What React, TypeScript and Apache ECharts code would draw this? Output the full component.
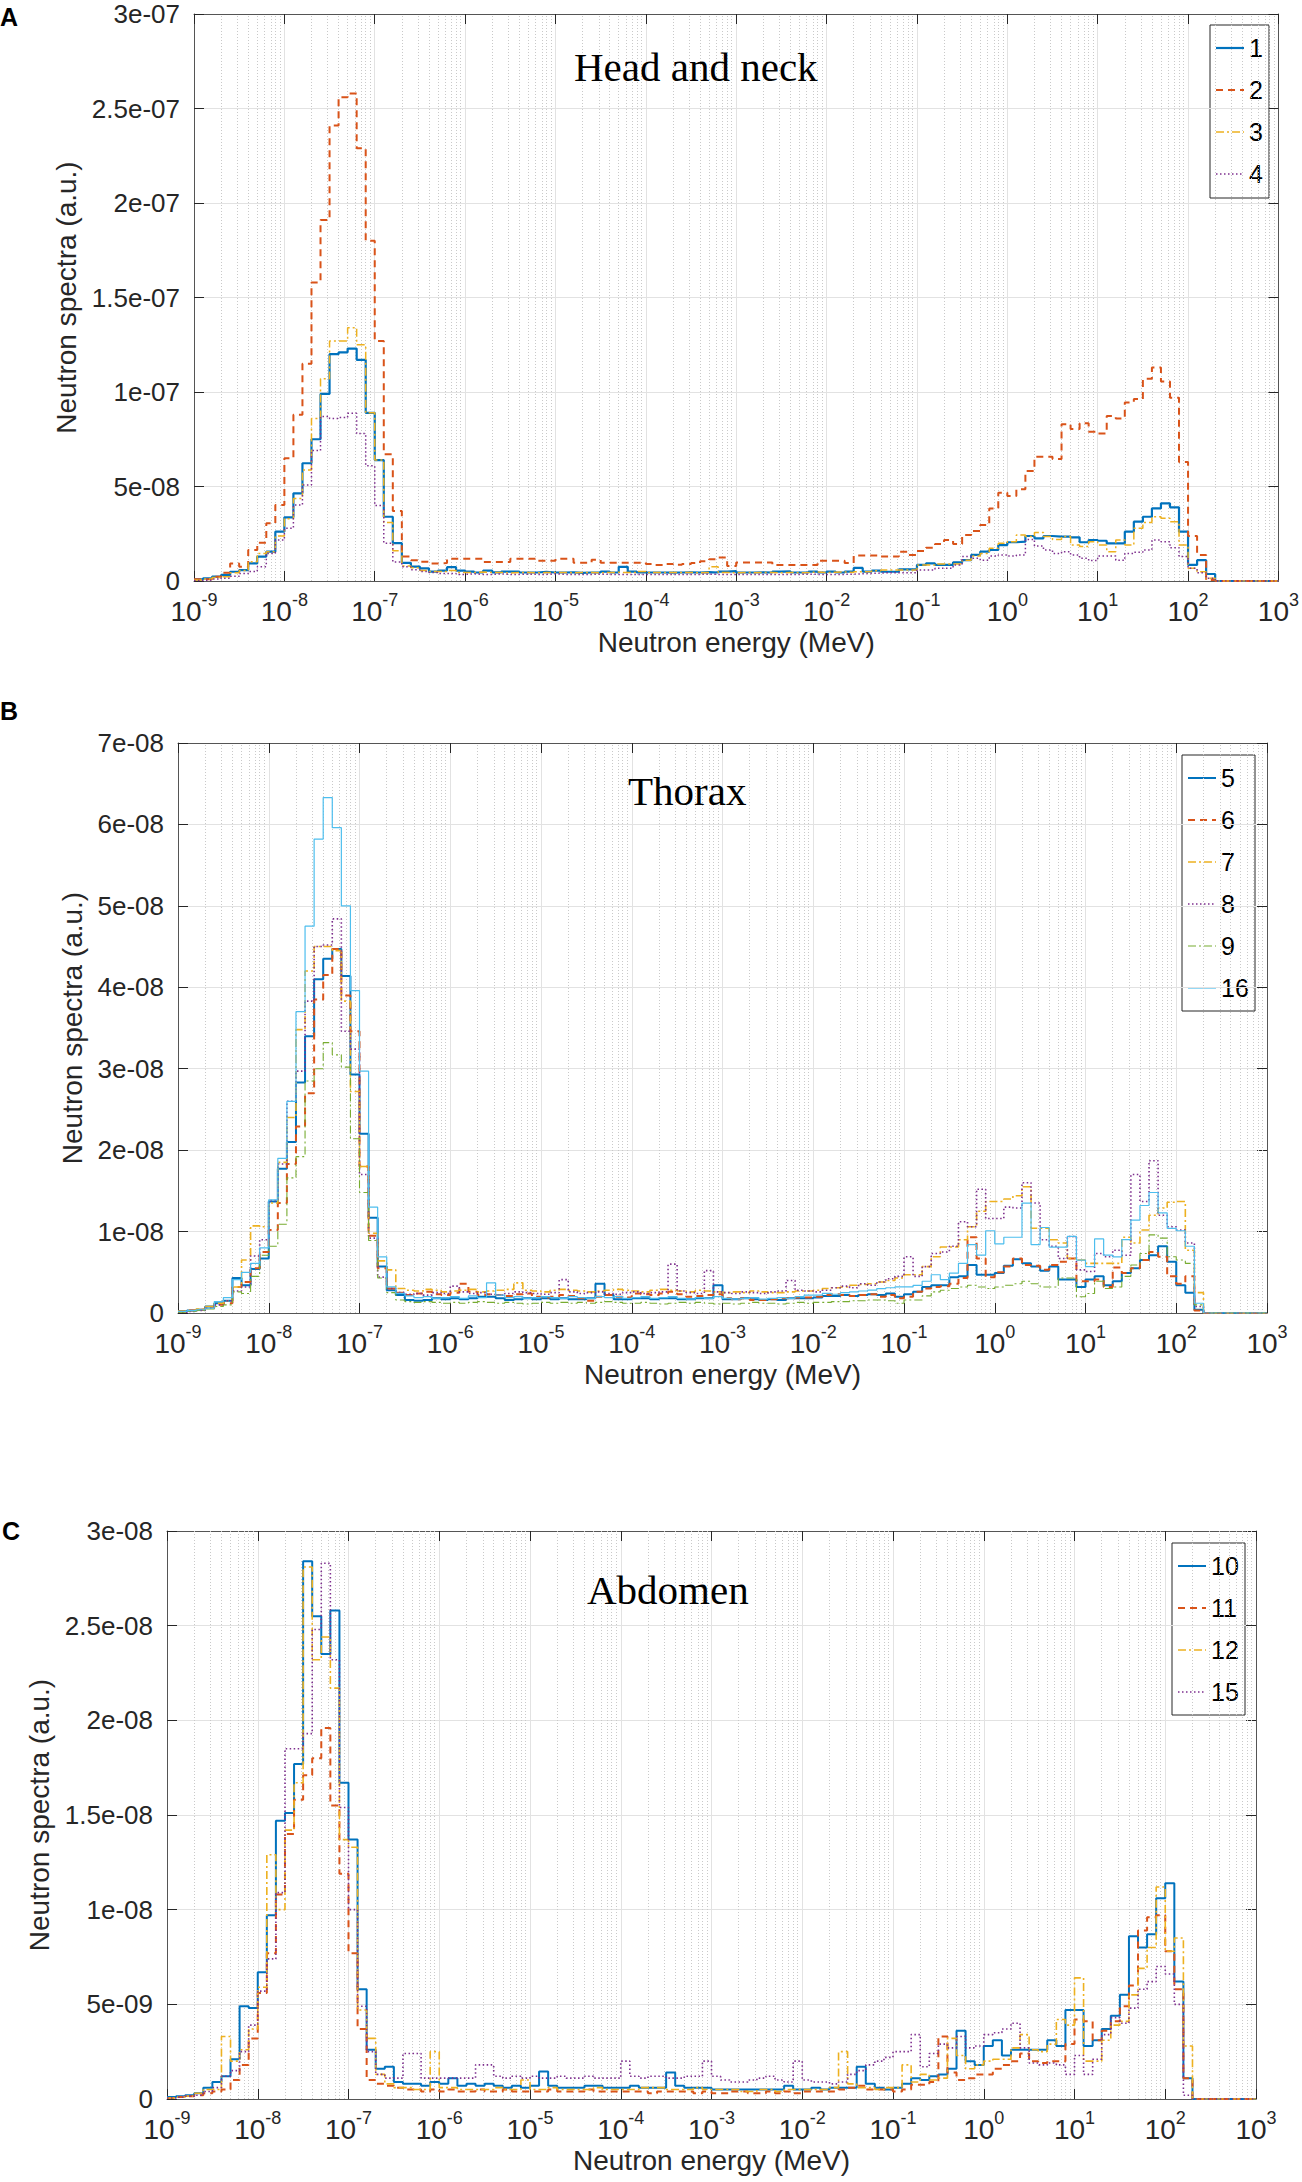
import React, { useEffect, useRef } from "react";
import * as echarts from "echarts";

// ---------- data (spectra in units of 1e-9 a.u., 10 log-bins per decade from 1e-9 to 1e3 MeV) ----------
const UNIT = 1e-9;
const LOG_MIN = -9;
const LOG_MAX = 3;
const BINS_PER_DECADE = 10;
const X_TITLE = "Neutron energy (MeV)";
const Y_TITLE = "Neutron spectra (a.u.)";
const PANEL_LETTERS = ["A", "B", "C"];
const PANEL_TITLES = ["Head and neck", "Thorax", "Abdomen"];
const Y_MAX = [300, 70, 30];
const Y_STEP = [50, 10, 5];

const A_NAMES = ["1", "2", "3", "4"];
const B_NAMES = ["5", "6", "7", "8", "9", "16"];
const C_NAMES = ["10", "11", "12", "15"];

const A1 = [
  0.9, 1.4, 2.3, 3.2, 4.9, 5.8, 9.3, 12.9, 15.5, 26.1,
  33.7, 46.4, 62.3, 75, 99, 120, 121, 123, 117, 89,
  64, 34, 20, 9.6, 7.6, 6.7, 5, 5.5, 7.3, 5.5,
  5, 4.5, 5.5, 4.6, 5, 5, 4.5, 4.5, 4.8, 4.5,
  4.5, 4.6, 4.3, 4.5, 4.5, 5, 4.5, 7.5, 5, 4.5,
  4.5, 4.5, 4.4, 4.5, 4.6, 4.5, 4.7, 4.5, 5, 5.2,
  4.5, 4.5, 4.6, 4.5, 5, 5.1, 4.5, 4.6, 5, 4.5,
  5, 4.5, 5, 6.9, 5, 5.5, 4.9, 4.9, 6.2, 6.2,
  8.5, 9.3, 8.5, 8.5, 9.9, 11, 13.8, 15.5, 16.4, 19,
  20.5, 20.8, 23.8, 22.6, 23.8, 23.5, 23.5, 23.1, 20.5, 21.7,
  21.3, 19.9, 19.9, 26.1, 31.4, 34, 38.4, 41.1, 39, 26.1,
  8.5, 11, 3.7, 0, 0, 0, 0, 0, 0, 0,
];
const A2 = [
  0.9, 0.9, 2.3, 4.4, 9.3, 7.6, 16.4, 20.3, 30.5, 40.2,
  65, 88, 115, 158, 191, 241, 256, 258, 229, 180,
  127, 67, 37, 12.9, 11, 10.2, 9.3, 9.5, 11.8, 11.8,
  11.8, 11.8, 10, 10, 10, 11.8, 11.8, 11.8, 10.7, 10.7,
  11.8, 11.8, 9.6, 9.6, 11.3, 9.6, 9.6, 9.6, 9.6, 9.6,
  9, 8.5, 9, 8.6, 9, 9.5, 10.5, 11.5, 12.4, 8,
  9.8, 9.8, 9.8, 9.8, 8.4, 8.4, 8.4, 8.4, 8.4, 10.7,
  10.7, 10.7, 9.5, 13.5, 13.5, 13.5, 12.9, 12.9, 15.5, 13.8,
  15.9, 17.6, 19.6, 21.7, 19.6, 24.3, 26.5, 29.6, 38.4, 46.7,
  45, 48.5, 58.2, 65.8, 65.8, 64.6, 83, 80.4, 83.4, 79,
  78, 87.3, 86, 94.4, 96.3, 107, 113, 105.5, 97, 63,
  23.8, 13.8, 0.5, 0, 0, 0, 0, 0, 0, 0,
];
const A3 = [
  0.5, 1, 1.8, 2.3, 4.4, 5.5, 10.2, 14.6, 15.5, 23.8,
  33, 43.7, 58.7, 86, 107, 127, 127, 134, 125, 89,
  64, 31, 16, 8, 7, 5.5, 5, 5, 5.5, 4.5,
  4.5, 4.8, 4.5, 4.5, 4.2, 4.5, 4.5, 4.3, 4.5, 4.5,
  4.5, 4.4, 4.5, 4.5, 4.3, 4.5, 4.6, 4.5, 4.5, 5,
  4.5, 4.5, 4.5, 4.5, 4.5, 4.3, 4.5, 7.5, 4.5, 4.3,
  4.5, 4.4, 4.5, 4.5, 4.3, 4.5, 4.4, 4.5, 4.7, 4.5,
  4.6, 4.8, 4.5, 4.9, 5, 5.4, 5.8, 5.8, 5.8, 5.8,
  8.5, 8.5, 9, 9, 9, 11, 13.2, 14.6, 17.3, 20,
  20.8, 24.3, 23.5, 25.6, 23.5, 22, 23.5, 19, 18.2, 20.8,
  19, 15.5, 21.7, 19, 27.9, 30.9, 34, 33.2, 31.4, 19,
  6.7, 4.9, 1.4, 0, 0, 0, 0, 0, 0, 0,
];
const A4 = [
  0.3, 0.5, 1, 1.5, 2.5, 4, 5, 7.6, 14.6, 21.7,
  27.9, 40.2, 50.8, 69, 87, 86, 86.5, 88.7, 78, 61,
  40, 20, 10, 7.6, 6, 5, 4.5, 4, 4, 3.5,
  3.8, 3.5, 3.5, 3.8, 3.5, 3.5, 3.6, 3.5, 3.5, 3.8,
  3.5, 3.5, 3.5, 3.5, 3.6, 3.5, 3.5, 3.5, 3.4, 3.5,
  3.5, 3.5, 3.5, 3.4, 3.5, 3.5, 3.6, 3.5, 3.5, 3.5,
  3.5, 3.5, 3.5, 3.5, 3.5, 3.5, 3.5, 3.6, 3.5, 3.5,
  3.5, 3.5, 3.6, 3.8, 4, 4.2, 4.4, 4.4, 4.4, 4.4,
  5.8, 5.8, 6.7, 6.7, 8.5, 12.9, 12, 11, 13.2, 13.8,
  13.2, 13.8, 22, 18.5, 16.4, 14.6, 15.5, 13.8, 12, 10.8,
  13.2, 13.2, 11, 14.6, 15.2, 16.4, 21.7, 20.8, 17.6, 12.9,
  6.7, 4.4, 1.4, 0, 0, 0, 0, 0, 0, 0,
];

const B5 = [
  0.2, 0.3, 0.4, 0.8, 1.2, 1.5, 4.3, 3.4, 5.4, 6.7,
  13.7, 17.7, 21, 28.3, 34, 41, 43.5, 44.7, 41.4, 29.3,
  22, 11.7, 5.7, 2.8, 2.2, 1.6, 1.5, 1.6, 1.8, 1.7,
  1.8, 1.7, 1.8, 2, 2, 1.8, 1.6, 1.7, 1.8, 1.7,
  1.8, 1.7, 1.8, 1.7, 1.7, 1.8, 3.6, 2.2, 1.7, 1.7,
  1.8, 1.8, 1.7, 1.8, 1.8, 1.7, 1.7, 1.8, 1.8, 3.4,
  1.7, 1.7, 1.8, 1.7, 1.6, 1.7, 1.6, 1.8, 1.8, 1.8,
  1.9, 2.1, 2.1, 2.2, 2.1, 2.2, 2.3, 2.2, 2.4, 2,
  2.3, 2.6, 3.2, 3.4, 3.4, 4.4, 4.5, 5.9, 4.7, 4.7,
  4.9, 5.8, 6.6, 6.1, 5.7, 5.2, 5.7, 4.1, 4.1, 3.2,
  4.1, 4.5, 3.4, 3.9, 4.9, 5.5, 6.5, 7.1, 8.2, 6.3,
  3.4, 2.5, 0.4, 0, 0, 0, 0, 0, 0, 0,
];
const B6 = [
  0.2, 0.3, 0.4, 0.7, 1, 1.2, 3.2, 3.8, 5.5, 7.5,
  10.2, 13.5, 18.3, 22.9, 27, 38.5, 41.5, 44.7, 39, 34.6,
  18, 9.5, 5.5, 3, 2.5, 2.2, 2.4, 2.6, 2.3, 2.2,
  2.5, 3.6, 2.6, 2.2, 2.3, 2.2, 2.1, 2.3, 2.4, 2,
  1.9, 2, 2.2, 2.1, 1.8, 1.5, 2, 2.2, 2, 1.9,
  2.4, 2.3, 2.2, 2.4, 2.6, 2.3, 2, 2.1, 2.2, 2.3,
  1.8, 1.7, 1.8, 1.6, 1.6, 1.7, 1.8, 1.8, 1.9, 1.9,
  2, 2.2, 2.3, 2.2, 2.1, 2.2, 2.3, 2, 2.2, 1.8,
  2, 2.6, 3, 3.2, 3.3, 3.6, 4.3, 9.3, 6.7, 4.4,
  5, 5.7, 6.7, 5.9, 5.8, 5.3, 5.9, 6.3, 6.7, 3.9,
  3.9, 4.1, 3.2, 5.6, 4.9, 5.5, 6.5, 7.5, 6.9, 4.5,
  3.6, 4.5, 0.3, 0, 0, 0, 0, 0, 0, 0,
];
const B7 = [
  0.2, 0.3, 0.5, 0.8, 1.2, 1.5, 3.2, 6.5, 10.7, 10.6,
  13.5, 18.5, 24, 34.8, 42, 45, 45, 44.5, 38.3, 27.2,
  18, 9.8, 6.4, 5.3, 3, 2.8, 2.7, 2.9, 2.8, 2.6,
  2.7, 2.8, 2.9, 2.6, 2.7, 2.8, 2.9, 3.7, 2.8, 2.7,
  2.6, 2.8, 2.9, 2.8, 2.7, 2.6, 2.7, 2.8, 2.9, 2.8,
  2.7, 2.6, 2.8, 2.9, 2.8, 2.7, 2.6, 2.8, 2.7, 2.6,
  2.5, 2.6, 2.5, 2.7, 2.6, 2.5, 2.5, 2.6, 2.7, 2.7,
  2.8, 3, 3.1, 3.2, 3.4, 3.5, 3.6, 3.8, 4, 4.3,
  4.7, 4.7, 5.7, 6.9, 8.1, 8.1, 9, 10.6, 12.5, 13.7,
  13.7, 14, 14.4, 15.5, 10.4, 10.4, 9, 8.6, 6.7, 6.5,
  6.1, 6.1, 6.1, 6.1, 9.3, 8.6, 10.2, 12, 12.9, 13.6,
  13.7, 7.7, 2.5, 0, 0, 0, 0, 0, 0, 0,
];
const B8 = [
  0.1, 0.2, 0.3, 0.6, 1, 1.5, 2.7, 3.2, 7, 9,
  13.8, 18.3, 26, 29.7, 38.3, 45, 45.2, 48.4, 34.6, 32.4,
  17, 9.2, 4.4, 3, 2.5, 2.3, 2.4, 2.2, 2.5, 2.4,
  3.3, 2.6, 2.4, 2.5, 2.3, 2.2, 2.4, 2.6, 2.5, 2.4,
  2.3, 2.5, 4.1, 2.6, 2.4, 2.5, 2.6, 2.4, 2.3, 2.5,
  2.6, 2.4, 2.5, 2.6, 6, 2.7, 2.5, 2.4, 5.2, 2.6,
  2.5, 2.4, 2.6, 2.5, 2.4, 2.6, 2.7, 4, 2.8, 2.7,
  2.6, 2.8, 3.1, 3.3, 3.1, 3.6, 3.4, 3.8, 4.2, 4.5,
  6.9, 4.5, 5.7, 7.3, 7.5, 8.2, 11.2, 10.6, 15.2, 11.6,
  11.6, 13, 12.9, 16, 13.5, 9, 8.2, 6.7, 9.4, 5.3,
  5.1, 7.3, 6.9, 7.7, 7.1, 17, 13.7, 18.7, 12, 10.6,
  10.2, 8.6, 0.8, 0, 0, 0, 0, 0, 0, 0,
];
const B9 = [
  0.1, 0.2, 0.3, 0.5, 0.8, 1, 2.6, 2.4, 4.5, 7.1,
  8.2, 10.9, 16.6, 19.2, 28.5, 30, 33.2, 31.7, 30.2, 21.4,
  14.8, 8.9, 4.3, 2.5, 1.6, 1.4, 1.3, 1.4, 1.3, 1.2,
  1.3, 1.2, 1.3, 1.4, 1.3, 1.2, 1.3, 1.2, 1.1, 1.2,
  1.3, 1.2, 1.3, 1.2, 1.3, 1.2, 1.3, 1.4, 1.3, 1.2,
  1.2, 1.3, 1.2, 1.1, 1.2, 1.3, 1.2, 1.3, 1.2, 1.1,
  1.2, 1.1, 1.2, 1.3, 1.2, 1.2, 1.1, 1.2, 1.3, 1.2,
  1.3, 1.3, 1.4, 1.4, 1.5, 1.5, 1.6, 1.6, 1.5, 1.2,
  1.6, 1.6, 2.1, 2.6, 2.8, 3, 3.2, 3.4, 3.2, 3,
  3.2, 3.4, 3.6, 3.9, 3.6, 3.2, 3.2, 4.3, 4.3, 2,
  2.4, 3.9, 3, 3.2, 4.5, 5.9, 7.3, 9.6, 9.2, 6.9,
  6.5, 6.1, 1, 0, 0, 0, 0, 0, 0, 0,
];
const B16 = [
  0.2, 0.3, 0.4, 0.6, 1.4, 1.9, 4.1, 5, 6.1, 8,
  13.9, 19, 26, 37, 47.5, 58.2, 63.3, 59.6, 50, 39.6,
  29.7, 13, 6.9, 3.2, 2.4, 2.1, 1.9, 2, 1.8, 1.9,
  2, 1.8, 2.1, 1.9, 3.7, 2.2, 1.9, 2, 1.8, 1.9,
  2, 1.9, 1.8, 2, 1.9, 1.8, 2, 1.9, 2, 1.8,
  1.9, 2, 1.8, 1.9, 2, 1.8, 1.7, 1.9, 1.8, 2,
  1.8, 1.7, 1.8, 1.9, 1.7, 1.8, 1.9, 1.8, 2, 2.2,
  2.2, 2.4, 2.3, 2.5, 2.6, 2.7, 2.8, 3, 3.1, 3.2,
  3.2, 3.4, 3.9, 4.7, 4.1, 4.9, 6.1, 8.4, 7.1, 10.1,
  8.5, 9.3, 9.3, 13.5, 8.4, 10.5, 8.1, 8.1, 9.4, 6.5,
  5.7, 9.1, 7.1, 6.9, 9, 11.4, 13.2, 14.8, 12.3, 10.4,
  10.1, 8.2, 1.2, 0, 0, 0, 0, 0, 0, 0,
];

const C10 = [
  0.1, 0.15, 0.2, 0.3, 0.6, 0.9, 1.2, 2.1, 4.9, 4.8,
  6.7, 9.7, 14.7, 15.1, 17.7, 28.4, 25.5, 23.5, 25.8, 16.7,
  13.7, 5.8, 2.6, 1.6, 1.7, 0.9, 0.8, 0.8, 0.7, 0.9,
  0.8, 1.1, 0.7, 0.8, 0.7, 0.8, 0.7, 0.6, 0.7, 0.6,
  0.7, 1.45, 0.7, 0.6, 0.6, 0.6, 0.7, 0.7, 0.6, 0.6,
  0.6, 0.7, 0.6, 0.6, 0.6, 1.4, 0.7, 0.6, 0.6, 0.6,
  0.5, 0.5, 0.5, 0.5, 0.5, 0.5, 0.5, 0.5, 0.7, 0.5,
  0.5, 0.6, 0.5, 0.6, 0.6, 0.6, 1.7, 0.8, 0.6, 0.5,
  0.6, 0.8, 1.1, 1, 1.2, 1.3, 1.6, 3.6, 2, 1.8,
  2.8, 3.1, 2.3, 2.6, 2.6, 2.6, 2.6, 3.1, 2.8, 4.7,
  4.7, 2.8, 3.1, 3.7, 4.4, 5.5, 8.6, 8, 8.7, 10.6,
  11.4, 6.2, 1.1, 0, 0, 0, 0, 0, 0, 0,
];
const C11 = [
  0.05, 0.1, 0.15, 0.2, 0.3, 0.4, 0.5, 1, 1.8, 3.2,
  5.6, 7.7, 10.8, 14, 15.8, 17.1, 18, 19.6, 15.5, 11.9,
  7.7, 3.7, 1, 0.8, 0.7, 0.6, 0.5, 0.5, 0.4, 0.5,
  0.4, 0.5, 0.4, 0.4, 0.5, 0.4, 0.4, 0.5, 0.4, 0.4,
  0.4, 0.4, 0.5, 0.4, 0.4, 0.4, 0.5, 0.4, 0.4, 0.4,
  0.4, 0.4, 0.4, 0.3, 0.4, 0.4, 0.4, 0.4, 0.3, 0.4,
  0.3, 0.3, 0.4, 0.4, 0.3, 0.3, 0.4, 0.3, 0.4, 0.3,
  0.4, 0.4, 0.4, 0.4, 0.5, 0.6, 0.7, 0.5, 0.5, 0.5,
  0.4, 0.5, 0.75, 0.75, 0.9, 3.3, 1.4, 1, 1.1, 1.3,
  1.3, 1.6, 1.8, 2, 2.4, 2, 1.9, 2, 2, 2.9,
  4.2, 4.1, 3.1, 3.6, 4.1, 4.9, 6, 8.9, 9.6, 9.7,
  7.8, 5.8, 1.1, 0, 0, 0, 0, 0, 0, 0,
];
const C12 = [
  0.05, 0.1, 0.15, 0.3, 0.5, 0.5, 3.3, 2, 2.6, 3.7,
  5.9, 12.9, 10, 14.2, 16.7, 28.1, 23.2, 24.4, 21.7, 13.7,
  13.3, 4.7, 3.2, 1.3, 0.8, 0.6, 0.6, 0.5, 0.5, 2.5,
  0.6, 0.6, 0.5, 0.5, 0.5, 0.5, 0.6, 0.5, 0.5, 1,
  0.5, 0.5, 0.6, 0.5, 0.5, 0.5, 0.5, 0.6, 0.5, 0.5,
  0.5, 0.5, 0.6, 0.6, 0.6, 0.5, 0.5, 0.5, 0.6, 0.5,
  0.5, 0.5, 0.5, 0.4, 0.4, 0.5, 0.5, 0.4, 0.5, 0.5,
  0.5, 0.5, 0.5, 0.6, 2.5, 0.8, 0.6, 0.6, 0.5, 0.6,
  0.6, 1.8, 0.9, 1.3, 1, 1.1, 3.2, 2.3, 1.6, 1.8,
  2, 2.1, 2.1, 2.7, 3.4, 2.6, 2.5, 2.9, 4.2, 3.9,
  6.4, 2, 2, 3.1, 3.9, 4.1, 5.5, 6.9, 8, 11.2,
  7.8, 8.5, 2.8, 0, 0, 0, 0, 0, 0, 0,
];
const C15 = [
  0.05, 0.1, 0.15, 0.2, 0.4, 0.6, 1.2, 1.5, 2.5, 3.9,
  5.7, 7.4, 10.9, 18.5, 18.5, 19.3, 24.8, 28.3, 23.2, 15.4,
  10, 4.9, 2.5, 1.3, 1.1, 1.1, 2.4, 2.4, 1.1, 1.1,
  1.1, 1.1, 1.1, 1.1, 1.8, 1.8, 1.2, 1.1, 1.2, 1.1,
  1.2, 1.1, 1.1, 1.2, 1.1, 1.1, 1.2, 1.1, 1.1, 1.1,
  2, 1.2, 1.1, 1.2, 1.2, 1.1, 1.1, 1.2, 1.2, 2,
  1.2, 1, 0.9, 0.9, 1, 1.1, 1.2, 1, 0.9, 2,
  1, 0.9, 0.9, 0.8, 0.9, 1.3, 1.5, 1.8, 2, 2.2,
  2.5, 2.5, 3.4, 1.7, 2.4, 2.9, 2.7, 3.3, 2.7, 2.8,
  3.4, 3.5, 3.7, 4, 2.7, 1.9, 1.8, 1.9, 1.8, 1.3,
  2.3, 1.3, 2.1, 3.4, 4.3, 4, 4.8, 5.8, 6.2, 7,
  6.6, 5, 0.2, 0, 0, 0, 0, 0, 0, 0,
];

// ---------- styles & layout ----------
const BLUE = "#0072BD";
const ORANGE = "#D95319";
const YELLOW = "#EDB120";
const PURPLE = "#7E2F8E";
const GREEN = "#77AC30";
const LIGHTBLUE = "#4DBEEE";
const DASH = [7, 5];
const DASHDOT = [8, 3, 2, 3];
const DOT = [1.5, 2.5];
const SANS = "'Liberation Sans', Arial, Helvetica, sans-serif";
const SERIF = "'Liberation Serif', 'Times New Roman', Times, serif";
const TEXT = "#262626";

type SeriesSpec = { name: string; values: number[]; color: string; dash: number[] | null; width: number };

const PANEL_SERIES: SeriesSpec[][] = [
  [
    { name: A_NAMES[0], values: A1, color: BLUE, dash: null, width: 2.2 },
    { name: A_NAMES[1], values: A2, color: ORANGE, dash: DASH, width: 2 },
    { name: A_NAMES[2], values: A3, color: YELLOW, dash: DASHDOT, width: 1.5 },
    { name: A_NAMES[3], values: A4, color: PURPLE, dash: DOT, width: 1.5 },
  ],
  [
    { name: B_NAMES[0], values: B5, color: BLUE, dash: null, width: 2 },
    { name: B_NAMES[1], values: B6, color: ORANGE, dash: DASH, width: 2 },
    { name: B_NAMES[2], values: B7, color: YELLOW, dash: DASHDOT, width: 1.6 },
    { name: B_NAMES[3], values: B8, color: PURPLE, dash: DOT, width: 1.6 },
    { name: B_NAMES[4], values: B9, color: GREEN, dash: DASHDOT, width: 1.1 },
    { name: B_NAMES[5], values: B16, color: LIGHTBLUE, dash: null, width: 1.2 },
  ],
  [
    { name: C_NAMES[0], values: C10, color: BLUE, dash: null, width: 2 },
    { name: C_NAMES[1], values: C11, color: ORANGE, dash: DASH, width: 2 },
    { name: C_NAMES[2], values: C12, color: YELLOW, dash: DASHDOT, width: 1.6 },
    { name: C_NAMES[3], values: C15, color: PURPLE, dash: DOT, width: 1.6 },
  ],
];

const LAYOUT = [
  { grid: { left: 194, top: 14, width: 1087, height: 567 }, legend: { left: 1210, top: 25, width: 59, height: 173 }, title: { x: 574, y: 67 }, letter: { x: 0, y: 17 }, yNameGap: 111 },
  { grid: { left: 178, top: 743, width: 1089, height: 570 }, legend: { left: 1182, top: 755, width: 73, height: 256 }, title: { x: 628, y: 791 }, letter: { x: 0, y: 711 }, yNameGap: 89 },
  { grid: { left: 167, top: 1531, width: 1089, height: 568 }, legend: { left: 1172, top: 1543, width: 73, height: 172 }, title: { x: 587, y: 1590 }, letter: { x: 2, y: 1531 }, yNameGap: 111 },
];
const LEGEND_FIRST = 23;
const LEGEND_ROW = 42;
const LEGEND_LINE_X0 = 6;
const LEGEND_LINE_X1 = 34;
const LEGEND_TEXT_X = 39;

// minor (log) grid positions: log10(m * 10^d)
const MINOR_LOG: number[] = [];
for (let d = LOG_MIN; d < LOG_MAX; d++) {
  for (let m = 2; m <= 9; m++) MINOR_LOG.push(d + Math.log10(m));
}

function stepData(vals: number[]): number[][] {
  const pts = vals.map((v, k) => [LOG_MIN + k / BINS_PER_DECADE, v]);
  pts.push([LOG_MIN + vals.length / BINS_PER_DECADE, vals[vals.length - 1]]);
  return pts;
}

function fmtY(v: number): string {
  if (v === 0) return "0";
  const s = Number((v * UNIT).toPrecision(6)).toExponential();
  return s.replace(/e([+-])(\d)$/, "e$10$2");
}

function buildOption(): any {
  const grid: any[] = [];
  const xAxis: any[] = [];
  const yAxis: any[] = [];
  const series: any[] = [];
  const graphic: any[] = [];

  LAYOUT.forEach((L, p) => {
    grid.push({ ...L.grid, containLabel: false, show: false });
    const xBase = { type: "value", gridIndex: p, min: LOG_MIN, max: LOG_MAX, interval: 1 };
    xAxis.push({
      ...xBase,
      position: "bottom",
      axisLine: { show: true, onZero: false, lineStyle: { color: "#555", width: 1 } },
      axisTick: { show: true, inside: true, length: 10, lineStyle: { color: TEXT, width: 1 } },
      axisLabel: {
        margin: 10,
        formatter: (v: number) => `{b|10}{s|${v}}`,
        rich: {
          b: { fontSize: 28, fontFamily: SANS, color: TEXT, lineHeight: 40 },
          s: { fontSize: 18, fontFamily: SANS, color: TEXT, lineHeight: 18, verticalAlign: "top" },
        },
      },
      splitLine: { show: true, lineStyle: { color: "#e2e2e2", width: 1 } },
      name: X_TITLE,
      nameLocation: "middle",
      nameGap: 47,
      nameTextStyle: { fontSize: 28, fontFamily: SANS, color: TEXT },
    });
    xAxis.push({
      ...xBase,
      position: "top",
      axisLine: { show: true, onZero: false, lineStyle: { color: "#555", width: 1 } },
      axisTick: { show: true, inside: true, length: 10, lineStyle: { color: TEXT, width: 1 } },
      axisLabel: { show: false },
      splitLine: { show: false },
    });
    const yBase = { type: "value", gridIndex: p, min: 0, max: Y_MAX[p], interval: Y_STEP[p] };
    yAxis.push({
      ...yBase,
      position: "left",
      axisLine: { show: true, onZero: false, lineStyle: { color: "#555", width: 1 } },
      axisTick: { show: true, inside: true, length: 10, lineStyle: { color: TEXT, width: 1 } },
      axisLabel: { margin: 14, fontSize: 26, fontFamily: SANS, color: TEXT, formatter: fmtY },
      splitLine: { show: true, lineStyle: { color: "#e2e2e2", width: 1 } },
      name: Y_TITLE,
      nameLocation: "middle",
      nameGap: L.yNameGap,
      nameTextStyle: { fontSize: 28, fontFamily: SANS, color: TEXT },
    });
    yAxis.push({
      ...yBase,
      position: "right",
      axisLine: { show: true, onZero: false, lineStyle: { color: "#555", width: 1 } },
      axisTick: { show: true, inside: true, length: 10, lineStyle: { color: TEXT, width: 1 } },
      axisLabel: { show: false },
      splitLine: { show: false },
    });

    // minor log grid (dotted) via markLine on a helper series
    series.push({
      type: "line",
      name: `_minor${p}`,
      xAxisIndex: 2 * p,
      yAxisIndex: 2 * p,
      data: [[LOG_MIN, 0]],
      symbol: "none",
      lineStyle: { width: 0, opacity: 0 },
      silent: true,
      z: 1,
      markLine: {
        silent: true,
        symbol: ["none", "none"],
        z: 1,
        label: { show: false },
        emphasis: { disabled: true },
        lineStyle: { color: "#c9c9c9", width: 1, type: [1, 2] },
        data: MINOR_LOG.map((x) => ({ xAxis: x })),
        animation: false,
      },
    });

    PANEL_SERIES[p].forEach((s) => {
      series.push({
        type: "line",
        name: s.name,
        xAxisIndex: 2 * p,
        yAxisIndex: 2 * p,
        data: stepData(s.values),
        step: "end",
        symbol: "none",
        showSymbol: false,
        clip: true,
        z: 2,
        itemStyle: { color: s.color },
        lineStyle: { color: s.color, width: s.width, type: s.dash ? s.dash : "solid", cap: "butt" },
        emphasis: { disabled: true },
      });
    });

    // legend box (MATLAB style) drawn with graphic elements
    const lg = L.legend;
    const children: any[] = [
      {
        type: "rect",
        shape: { x: 0, y: 0, width: lg.width, height: lg.height },
        style: { fill: "#ffffff", stroke: TEXT, lineWidth: 1 },
      },
    ];
    PANEL_SERIES[p].forEach((s, i) => {
      const cy = LEGEND_FIRST + i * LEGEND_ROW;
      children.push({
        type: "line",
        shape: { x1: LEGEND_LINE_X0, y1: cy, x2: LEGEND_LINE_X1, y2: cy },
        style: { stroke: s.color, lineWidth: s.width, lineDash: s.dash || null, lineCap: "butt" },
      });
      children.push({
        type: "text",
        x: LEGEND_TEXT_X,
        y: cy,
        style: { text: s.name, fontSize: 25, fontFamily: SANS, fill: "#000", align: "left", verticalAlign: "middle" },
      });
    });
    graphic.push({ type: "group", x: lg.left, y: lg.top, z: 20, children });

    graphic.push({
      type: "text",
      x: L.title.x,
      y: L.title.y,
      z: 10,
      style: { text: PANEL_TITLES[p], fontSize: 41, fontFamily: SERIF, fill: "#000", align: "left", verticalAlign: "middle" },
    });
    graphic.push({
      type: "text",
      x: L.letter.x,
      y: L.letter.y,
      z: 10,
      style: { text: PANEL_LETTERS[p], fontSize: 25, fontWeight: "bold", fontFamily: SANS, fill: "#000", align: "left", verticalAlign: "middle" },
    });
  });

  return { animation: false, backgroundColor: "#ffffff", grid, xAxis, yAxis, series, graphic };
}

export default function App() {
  const ref = useRef<HTMLDivElement | null>(null);
  useEffect(() => {
    if (!ref.current) return;
    const chart = echarts.init(ref.current, null, { renderer: "svg" });
    chart.setOption(buildOption());
    return () => chart.dispose();
  }, []);
  return (
    <div
      ref={ref}
      style={{ position: "absolute", left: 0, top: 0, width: 1302, height: 2182, background: "#fff" }}
    />
  );
}
